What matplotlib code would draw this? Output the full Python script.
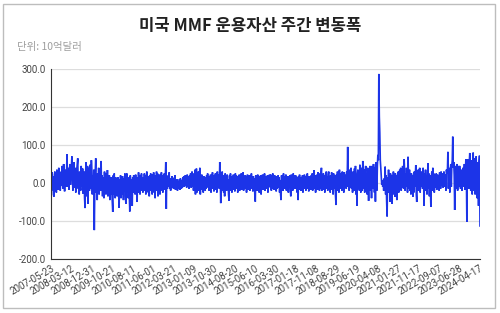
import matplotlib
matplotlib.use("Agg")
import matplotlib.pyplot as plt
import matplotlib.transforms as mtransforms
from matplotlib.patches import Rectangle
import numpy as np

plt.rcParams['font.family'] = ['Roboto', 'Noto Sans CJK KR', 'DejaVu Sans']

title = "미국 MMF 운용자산 주간 변동폭"
unit_label = "단위: 10억달러"

# weekly change, billions USD, one list per calendar year
w2007 = [12, -20, 28, -10, 18, -30, -36, 22, 30, -15, 8, -25, 35, 15, -18, 10,
         40, -12, 25, -20, 5, 30, -8, 45, 20, -15, 50, 10, -22, 35, 15, -10]
w2008 = [30, 76, -10, 40, 20, -18, 35, 50, -5, 25, 45, 70, 15, -20, 30, 55, -12,
         20, 40, -25, 10, 35, 50, 65, -15, 20, -30, 30, 10, -20, 45, 25, -10, 38,
         -28, 15, 30, -40, -66, 20, 55, -35, 30, 45, -55, 15, 40, -20, 48, 25, -15,
         60, 30]
w2009 = [-30, 20, -15, 35, -124, -20, 30, 65, -25, 15, -45, 25, -10, 40, -30, 10,
         30, -20, 58, -15, 20, -35, 15, -25, -40, 30, -20, 10, -30, 25, -15, 34,
         -35, 5, -25, 20, -45, 10, -30, 15, -20, -50, -76, 20, -30, 25, -15, -40,
         15, -25, 10, -35]
w2010 = [-20, 15, -30, -65, 10, -25, 20, -40, 5, -30, 18, -15, -45, 12, -20, 25,
         -35, -55, 10, 25, -25, 15, -40, 8, -30, -75, 20, -20, 10, -35, -60, 15,
         -25, 20, -15, 10, -30, 22, -20, 5, -50, 15, -25, 28, -10, 20, -30, 12,
         -20, 25, -15, 10]
w2011 = [-25, 15, -20, 25, -10, 20, -30, 10, 30, -15, 18, -25, 12, -35, 20, -10,
         25, -20, 15, -30, 22, -15, 28, -25, 10, -40, 20, -15, 30, -20, 25, -35,
         18, -10, 22, -30, 15, -20, 28, -15, 20, -25, 12, -18, 25, -10, 15, 55,
         -68, 20, -15, 10]
w2012 = [15, -10, 28, -15, 10, -20, 12, -8, 18, -12, 8, -15, 14, -10, 20, -18, 6,
         -12, 10, -20, 5, -15, -8, 10, -18, 12, -10, -15, 8, -12, 15, -5, 18, -10,
         12, 20, -8, 15, -12, 22, -10, 18, 10, -15, 20, -5, 25, -12, 15, 30, -10, 20]
w2013 = [-20, 25, -15, 35, -30, 20, 38, -25, 15, -10, 30, -20, 10, 40, -30, 15,
         -12, 22, -18, 10, -25, 18, -10, 15, -20, 12, -15, 20, -8, 25, -12, 10,
         -20, 18, -15, 22, -25, 12, -10, 28, -15, 15, -22, 20, -10, 25, -18, 12,
         -25, 30, -10, 20]
w2014 = [20, -15, 55, 10, -53, 25, -20, 30, -15, 20, -25, 12, -35, 25, -10, 18,
         -20, 22, -15, 10, -30, -47, 20, -12, 25, -20, 15, -25, 18, -10, 22, -18,
         12, -22, 25, -15, 20, -10, 15, -25, 18, -12, 22, -20, 10, -15, 25, -18,
         15, -10, 28, -20, 18]
w2015 = [-15, 20, -10, 18, -25, 12, 22, -18, 15, -12, 20, -20, 10, -15, 25, -10,
         15, -22, 18, -8, 12, -30, -49, 20, -15, 15, -20, 22, -10, 18, -25, 12,
         -15, 20, -30, 15, -10, 22, -18, 10, -12, 25, -20, 15, -8, 18, -15, 20,
         -25, 12, -10, 22]
w2016 = [18, -12, 22, -20, 10, -15, 25, -10, 15, -18, 20, -8, 12, -22, 18, -15,
         10, 20, -12, 15, -25, 8, -30, -45, 20, -10, 15, -20, 25, -12, 18, -15,
         10, 22, -20, 12, -10, 18, -25, 15, -12, 20, -18, -35, 22, -10, 15, -20,
         25, -15, 20, -8]
w2017 = [-15, 20, -10, 15, -25, 10, -45, 18, -12, 22, -18, 12, -20, 15, -10, 20,
         -25, 10, -15, 22, -12, 18, -20, 12, -8, 25, -15, 10, -22, 18, -10, 15,
         -18, 20, -12, 25, -20, 15, -10, 34, -15, 20, -25, 18, -12, 22, -18, 28,
         -10, 15, -20, 25]
w2018 = [-15, 20, 40, -20, 15, -10, 25, -18, 12, -25, 20, -12, 30, -15, 18, -20,
         22, 30, -12, 15, -25, 20, -10, 28, -18, 12, -30, 25, -15, 20, -10, -35,
         -58, 22, -12, 30, -20, 15, -25, 35, -10, 20, -15, 25, -20, 30, -12, 18,
         -25, 28, -10, 20]
w2019 = [20, -15, 30, 10, 95, -10, 25, -20, 35, -12, 20, 40, -15, 28, -25, 30,
         15, -20, 38, -10, 45, -30, 20, -60, 25, 35, -15, 30, -20, 48, 10, -25,
         40, 15, -20, 58, 25, -15, 35, -25, 30, 45, -10, 25, -30, 40, 20, -47,
         35, 15, 45, -20]
w2020 = [30, -40, 45, 20, -15, 50, 35, -25, 40, -49, 55, 30, -20, 45, 74, 60,
         287, 175, 132, 60, 40, 15, -5, 8, -10, 5, -20, 12, -15, 43, -30, 20,
         -45, -88, 15, -25, 35, -20, 10, -49, 25, -38, 18, -55, 20, -15, 30, -30,
         12, -36, 25, -20, 15]
w2021 = [-45, 20, -15, 30, -25, 15, 35, -10, 40, -20, 25, -12, 45, 20, -15, 63,
         30, -20, 25, -10, 40, 15, -25, 69, 20, -15, 35, -20, 10, -30, 25, -15,
         20, -36, 15, -25, 30, -10, 20, 47, -30, -50, 25, -15, 35, -20, 15, 40,
         -25, 20, -10, 30]
w2022 = [20, -15, 40, 10, -60, 25, -20, 35, -10, 20, -30, 15, 52, -15, 25, -35,
         20, -10, -63, 15, 30, -20, 40, -15, 25, -25, 10, 20, -12, 25, -18, 15,
         22, -10, 18, -20, 28, 12, -15, 30, -8, 20, 25, -12, 18, 30, -10, 22, 15,
         -20, 35, 25]
w2023 = [30, 82, -15, 40, 20, -25, 35, 50, -10, 45, 60, 122, 40, 55, 20, -71,
         45, 30, -15, 38, 50, -20, 25, 45, -10, 45, 30, -15, 20, 35, -20, 25, 40,
         -10, 30, 50, -18, 35, 63, 20, -102, 45, 63, 30, -15, 55, 79, 25, -20, 60,
         40, -30]
w2024 = [40, 80, -20, 50, 65, -30, 45, 70, 20, -40, 55, 30, -60, 50, 72, -113]

tick_labels = ["2007-05-23", "2008-03-12", "2008-12-31", "2009-10-21", "2010-08-11",
               "2011-06-01", "2012-03-21", "2013-01-09", "2013-10-30", "2014-08-20",
               "2015-06-10", "2016-03-30", "2017-01-18", "2017-11-08", "2018-08-29",
               "2019-06-19", "2020-04-08", "2021-01-27", "2021-11-17", "2022-09-07",
               "2023-06-28", "2024-04-17"]
tick_step = 42  # one label every 42 weeks

values = np.array(w2007 + w2008 + w2009 + w2010 + w2011 + w2012 + w2013 + w2014 +
                  w2015 + w2016 + w2017 + w2018 + w2019 + w2020 + w2021 + w2022 +
                  w2023 + w2024, dtype=float)
x = np.arange(len(values))

fig = plt.figure(figsize=(5.0, 3.13), dpi=100, facecolor='white')

# card border
fig.patches.append(Rectangle((3 / 500, 1 - 308 / 313), 492 / 500, 304 / 313,
                             transform=fig.transFigure, fill=False,
                             edgecolor='#bdbdbd', linewidth=1.0))

fig.text(0.5, 1 - 26 / 313, title, ha='center', va='center', fontsize=12,
         fontweight='bold', color='#222222', family=['Noto Sans CJK KR'])
fig.text(17 / 500, 1 - 47 / 313, unit_label, ha='left', va='center', fontsize=7.5,
         color='#9e9e9e', family=['Noto Sans CJK KR'])

ax = fig.add_axes([51 / 500, 1 - 259 / 313, 429 / 500, 190 / 313])
ax.plot(x, values, color='#1c34e8', linewidth=1.2, solid_joinstyle='miter')

ax.set_xlim(0, len(values) - 1)
ax.set_ylim(-200, 300)
ax.set_yticks(np.arange(-200, 301, 100))
ax.set_yticklabels([f"{v:.1f}" for v in np.arange(-200, 301, 100)])
ax.grid(axis='y', color='#dddddd', linewidth=0.9)
ax.set_axisbelow(True)

ticks = [i * tick_step for i in range(len(tick_labels))]
ax.set_xticks(ticks)
ax.set_xticklabels(tick_labels, rotation=30, ha='right', rotation_mode='anchor')
offset = mtransforms.ScaledTranslation(10 / 100, 0, fig.dpi_scale_trans)
for lab in ax.get_xticklabels():
    lab.set_transform(lab.get_transform() + offset)

ax.tick_params(axis='both', length=0, labelsize=7, colors='#444444')
ax.tick_params(axis='y', pad=4)
ax.tick_params(axis='x', pad=3)
for s in ['top', 'right']:
    ax.spines[s].set_visible(False)
ax.spines['left'].set_color('#333333')
ax.spines['bottom'].set_color('#333333')

fig.savefig('out.png', dpi=100, facecolor='white')
